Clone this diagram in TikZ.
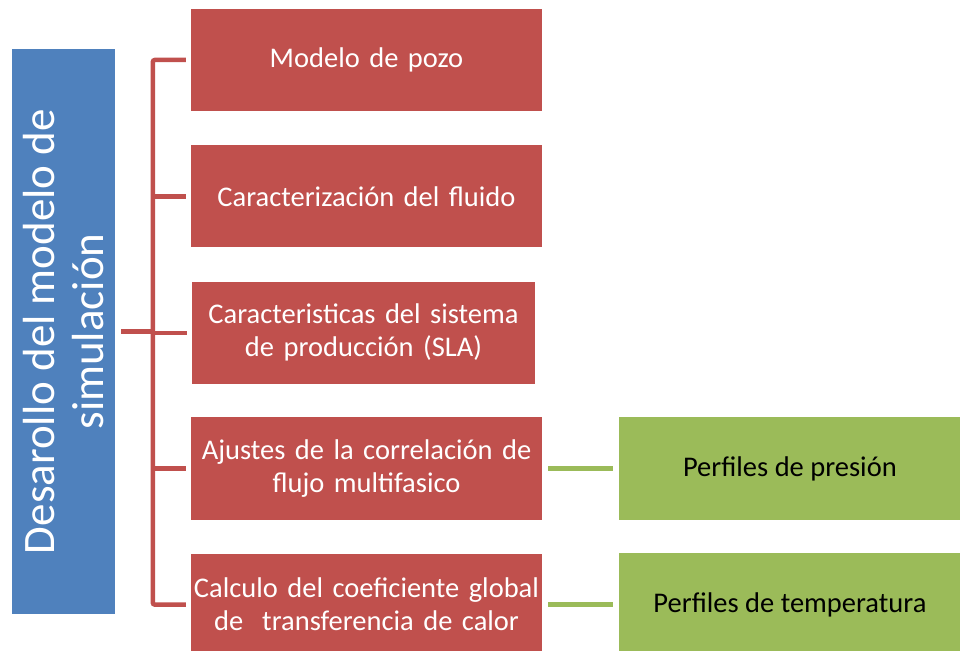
\documentclass[tikz,border=0pt]{standalone}
\usepackage{fontspec}
\setmainfont{Carlito}
\usetikzlibrary{positioning, calc}
\definecolor{rojo}{RGB}{192,80,77}
\definecolor{azul}{RGB}{79,129,189}
\definecolor{verde}{RGB}{155,187,89}

\begin{document}
\begin{tikzpicture}[
  x=1pt, y=-1pt,
  raiz/.style={
    rectangle, fill=azul, text=white, rotate=90,
    minimum width=565pt, minimum height=103pt, inner sep=0pt,
    font=\fontsize{45}{49}\selectfont, align=center
  },
  rama/.style={
    rectangle, fill=rojo, text=white,
    minimum width=351pt, minimum height=102pt, inner sep=0pt,
    font=\fontsize{28.5}{33}\selectfont, align=center, text width=349pt
  },
  resultado/.style={
    rectangle, fill=verde, text=black,
    minimum width=341pt, minimum height=103pt, inner sep=0pt,
    font=\fontsize{28.5}{33}\selectfont, align=center
  },
  llave/.style={draw=rojo, line width=4.5pt},
  enlace/.style={draw=verde, line width=5pt, shorten <=6pt, shorten >=6pt},
  node distance=34pt and 77pt
]
\useasboundingbox (0,0) rectangle (960,650);

% ── NODOS ────────────────────────────────────────────────────

\node[raiz] (desarrollo) at (63.5,331.5) {Desarollo del modelo de\\simulación};

\node[rama] (pozo) at (366.5,60) {Modelo de pozo};
\node[rama, below=of pozo] (fluido) {Caracterización del fluido};
\node[rama, below=of fluido, minimum width=343pt, text width=341pt, xshift=-3pt] (sistema)
  {Caracteristicas del sistema\\de producción (SLA)};
\node[rama, below=33pt of sistema, xshift=3pt, minimum height=103pt] (ajuste)
  {Ajustes de la correlación de\\flujo multifasico};
\node[rama, below=33pt of ajuste] (calor)
  {Calculo del coeficiente global\\de~ transferencia de calor};

\node[resultado, right=of ajuste] (presion) {Perfiles de presión};
\node[resultado, right=of calor] (temperatura) {Perfiles de temperatura};

% ── RELACIONES ────────────────────────────────────────────────

\coordinate (lomo) at ([xshift=-38pt]pozo.west);

% llave de las ramas
\draw[llave, rounded corners=2pt] ([xshift=-5pt]pozo.west) -| (lomo |- calor.west)
  -- ([xshift=-5pt]calor.west);
\draw[llave] (lomo |- fluido.west) -- ([xshift=-5pt]fluido.west);
\draw[llave] (lomo |- sistema.west) -- ([xshift=-5pt]sistema.west);
\draw[llave] (lomo |- ajuste.west) -- ([xshift=-5pt]ajuste.west);
% raiz -> llave
\draw[llave, shorten <=6pt] (desarrollo.south) -- (lomo |- desarrollo.south);

% ramas -> perfiles
\draw[enlace] (ajuste.east) -- (presion.west);
\draw[enlace] (calor.east) -- (temperatura.west);

\end{tikzpicture}
\end{document}
